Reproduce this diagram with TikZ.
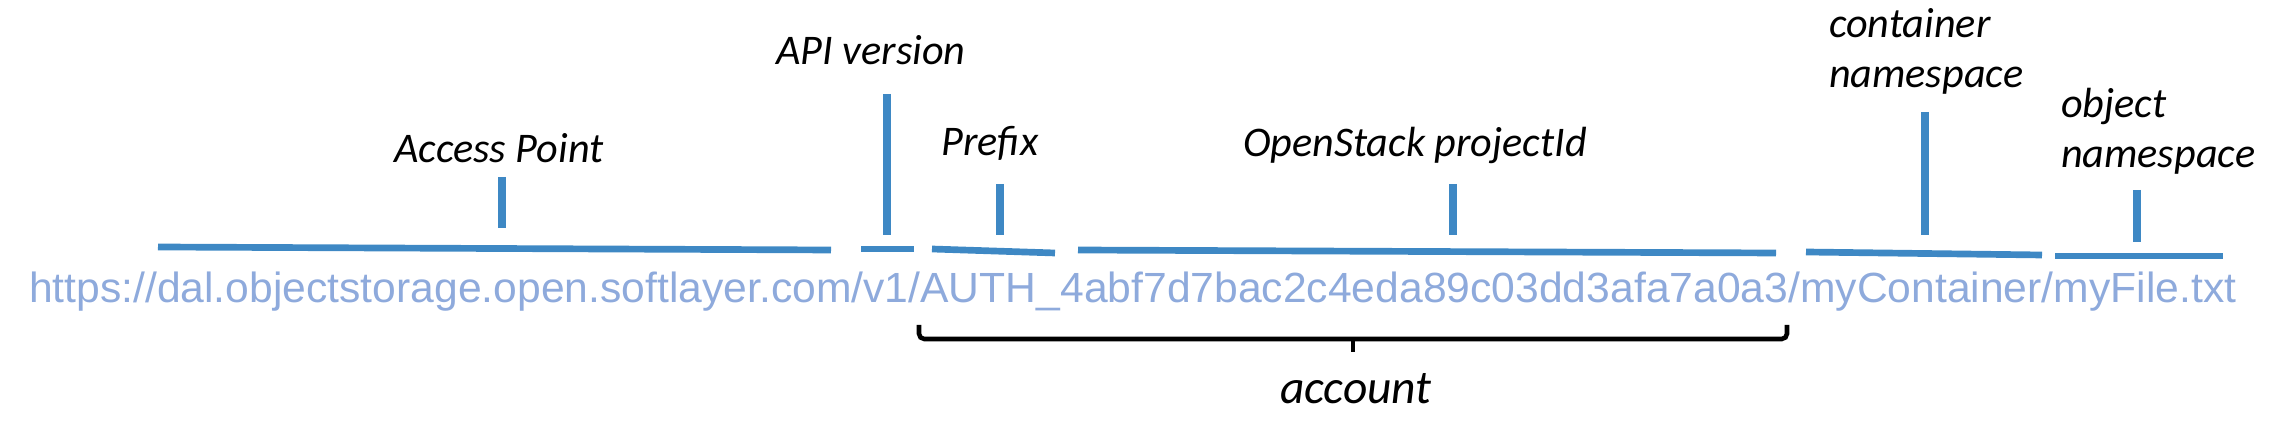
\documentclass[tikz,border=0pt]{standalone}
\usepackage{fontspec}
\setmainfont{Carlito}
\newfontfamily\urlfont{Liberation Sans}
\usetikzlibrary{positioning}
\definecolor{segblue}{RGB}{62,136,196}
\definecolor{urlblue}{RGB}{142,170,220}

\begin{document}
\begin{tikzpicture}[
    x = 0.01cm,
    y = -0.01cm,
    semithick
]

% Setup the styles for the parts
\tikzstyle{segment}=[draw=segblue, line width=1.9pt]
\tikzstyle{tick}=[draw=segblue, line width=2pt]
\tikzstyle{part}=[font=\fontsize{12}{14.4}\selectfont\itshape, inner sep=0pt, anchor=base]
\tikzstyle{brace}=[draw=black, line width=1.3pt, rounded corners=1.5pt]

\useasboundingbox (0,0) rectangle (2274,428);

% Draw the url
\node[inner sep=0pt, anchor=base west, text=urlblue] (url) at (28,303)
    {\resizebox{22.06cm}{\height}{\urlfont\fontsize{12}{14}\selectfont https://dal.objectstorage.open.softlayer.com/v1/AUTH\_4abf7d7bac2c4eda89c03dd3afa7a0a3/myContainer/myFile.txt}};

% Draw the labels
\node[part] (ap) at (499,163) {Access Point};
\node[part] (api) at (871,65) {API version};
\node[part] (pre) at (990,156) {Prefix};
\node[part] (pid) at (1415,157) {OpenStack projectId};
\node[part, align=left, anchor=base west] (cns) at (1828,88) {container\\namespace};
\node[part, align=left, anchor=base west] (ons) at (2060,168) {object\\namespace};
\node[part, font=\fontsize{13.5}{16}\selectfont\itshape] (acc) at (1356,404) {account};

% Draw the underlines
\coordinate (apL) at (158,247);  \coordinate (apR) at (831,250);
\coordinate (apiL) at (861,249); \coordinate (apiR) at (914,249);
\coordinate (preL) at (932,249); \coordinate (preR) at (1055,253);
\coordinate (pidL) at (1078,250); \coordinate (pidR) at (1776,253);
\coordinate (cnsL) at (1806,252); \coordinate (cnsR) at (2042,255);
\coordinate (onsL) at (2055,256); \coordinate (onsR) at (2223,256);
\draw[segment] (apL) -- (apR);
\draw[segment] (apiL) -- (apiR);
\draw[segment] (preL) -- (preR);
\draw[segment] (pidL) -- (pidR);
\draw[segment] (cnsL) -- (cnsR);
\draw[segment] (onsL) -- (onsR);

% Draw the ticks
\coordinate (apT) at (502,177);  \coordinate (apB) at (502,228);
\coordinate (apiT) at (887,94);  \coordinate (apiB) at (887,235);
\coordinate (preT) at (1000,184); \coordinate (preB) at (1000,235);
\coordinate (pidT) at (1453,184); \coordinate (pidB) at (1453,235);
\coordinate (cnsT) at (1925,112); \coordinate (cnsB) at (1925,235);
\coordinate (onsT) at (2137,190); \coordinate (onsB) at (2137,242);
\draw[tick] (apT) -- (apB);
\draw[tick] (apiT) -- (apiB);
\draw[tick] (preT) -- (preB);
\draw[tick] (pidT) -- (pidB);
\draw[tick] (cnsT) -- (cnsB);
\draw[tick] (onsT) -- (onsB);

% Draw the account brace
\coordinate (accL) at (919,325);
\coordinate (accR) at (1787,325);
\coordinate (accM) at (1353,339);
\coordinate (accT) at (1353,352);
\draw[brace] (accL) |- (accR |- accM) -- (accR);
\draw[brace] (accM) -- (accT);

\end{tikzpicture}
\end{document}
